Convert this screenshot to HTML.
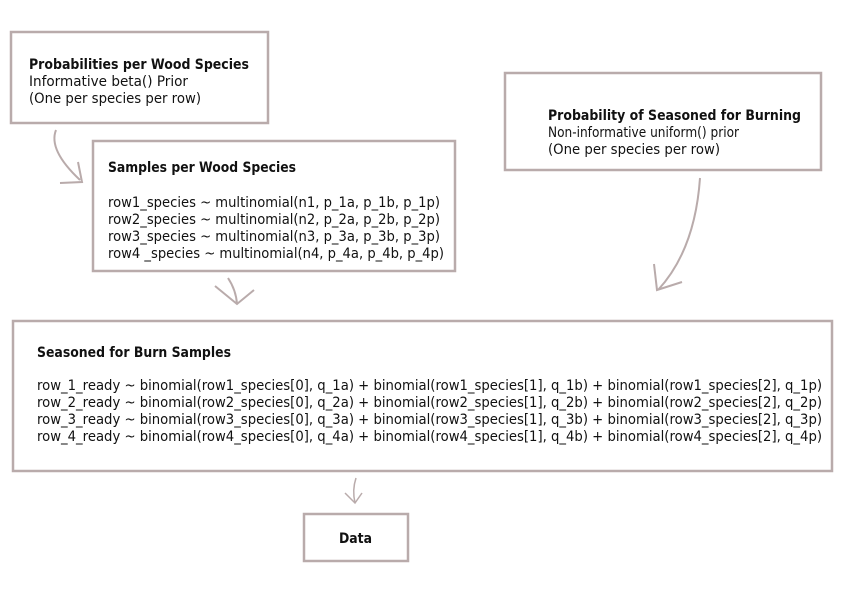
<!DOCTYPE html>
<html><head><style>
body{margin:0;background:#fff;}
svg{display:block;}
text{font-family:"DejaVu Sans","Liberation Sans",sans-serif;fill:#111;}
.b{font-weight:bold;}
</style></head><body>
<svg width="852" height="597" viewBox="0 0 852 597">
<g fill="none" stroke="#b9abab" stroke-width="2.5">
<rect x="11" y="32" width="257" height="91"/>
<rect x="93" y="141" width="362" height="130"/>
<rect x="505" y="73" width="316" height="97"/>
<rect x="13" y="321" width="819" height="150"/>
<rect x="304" y="514" width="104" height="47"/>
<path d="M56 130 Q48 150 80 180 M60 183 L82 182 L78 162" stroke-width="2"/>
<path d="M228 278 Q236 290 237 304 M215 286 L237 304 L254 290" stroke-width="2"/>
<path d="M700 178 Q695 250 658 290 M654 264 L657 290 L682 282" stroke-width="2"/>
<path d="M356 478 Q352 490 355 503 M345 493 L355 503 L362 493" stroke-width="1.5"/>
</g>
<g font-size="14.5">
<text x="29" y="69" class="b" textLength="220" lengthAdjust="spacingAndGlyphs">Probabilities per Wood Species</text>
<text x="29" y="86" textLength="159" lengthAdjust="spacingAndGlyphs">Informative beta() Prior</text>
<text x="29" y="103" textLength="172" lengthAdjust="spacingAndGlyphs">(One per species per row)</text>

<text x="108" y="172" class="b" textLength="188" lengthAdjust="spacingAndGlyphs">Samples per Wood Species</text>
<text x="108" y="207" textLength="332" lengthAdjust="spacingAndGlyphs">row1_species ~ multinomial(n1, p_1a, p_1b, p_1p)</text>
<text x="108" y="224" textLength="332" lengthAdjust="spacingAndGlyphs">row2_species ~ multinomial(n2, p_2a, p_2b, p_2p)</text>
<text x="108" y="241" textLength="332" lengthAdjust="spacingAndGlyphs">row3_species ~ multinomial(n3, p_3a, p_3b, p_3p)</text>
<text x="108" y="258" textLength="336" lengthAdjust="spacingAndGlyphs">row4 _species ~ multinomial(n4, p_4a, p_4b, p_4p)</text>

<text x="548" y="120" class="b" textLength="253" lengthAdjust="spacingAndGlyphs">Probability of Seasoned for Burning</text>
<text x="548" y="137" textLength="191" lengthAdjust="spacingAndGlyphs">Non-informative uniform() prior</text>
<text x="548" y="154" textLength="172" lengthAdjust="spacingAndGlyphs">(One per species per row)</text>

<text x="37" y="357" class="b" textLength="194" lengthAdjust="spacingAndGlyphs">Seasoned for Burn Samples</text>
<text x="37" y="390" textLength="785" lengthAdjust="spacingAndGlyphs">row_1_ready ~ binomial(row1_species[0], q_1a) + binomial(row1_species[1], q_1b) + binomial(row1_species[2], q_1p)</text>
<text x="37" y="407" textLength="785" lengthAdjust="spacingAndGlyphs">row_2_ready ~ binomial(row2_species[0], q_2a) + binomial(row2_species[1], q_2b) + binomial(row2_species[2], q_2p)</text>
<text x="37" y="424" textLength="785" lengthAdjust="spacingAndGlyphs">row_3_ready ~ binomial(row3_species[0], q_3a) + binomial(row3_species[1], q_3b) + binomial(row3_species[2], q_3p)</text>
<text x="37" y="441" textLength="785" lengthAdjust="spacingAndGlyphs">row_4_ready ~ binomial(row4_species[0], q_4a) + binomial(row4_species[1], q_4b) + binomial(row4_species[2], q_4p)</text>

<text x="339" y="543" class="b" textLength="33" lengthAdjust="spacingAndGlyphs">Data</text>
</g>
</svg>
</body></html>
